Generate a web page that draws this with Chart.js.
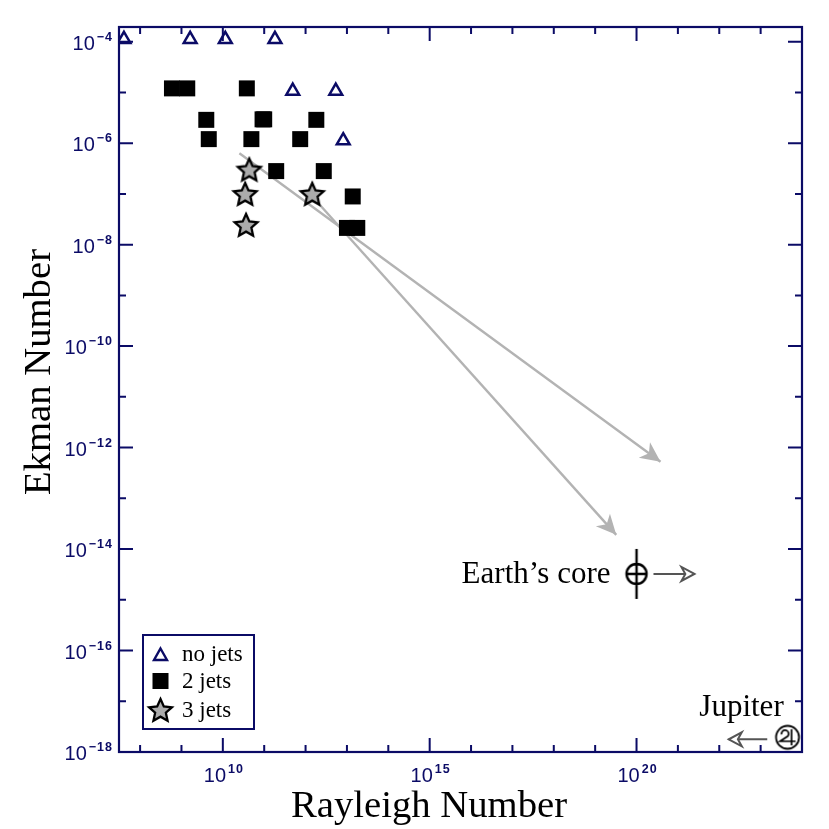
<!DOCTYPE html>
<html>
<head>
<meta charset="utf-8">
<script src="https://cdn.jsdelivr.net/npm/chart.js@4"></script>
<style>
body { margin: 0; background: #fff; }
</style>
</head>
<body>
<canvas id="chart" width="829" height="829"></canvas>
<script>
// all values are log10
const noJetsRa = [7.61, 9.21, 10.06, 11.26, 11.69, 12.73, 12.91];
const noJetsEk = [-3.95, -3.95, -3.95, -3.95, -4.97, -4.97, -5.95];
const twoJetsRa = [8.77, 9.14, 10.58, 9.60, 10.96, 11.0, 12.26, 9.66, 10.69, 11.87, 11.29, 12.44, 13.14, 13.0, 13.25];
const twoJetsEk = [-4.92, -4.92, -4.92, -5.54, -5.53, -5.53, -5.54, -5.92, -5.92, -5.92, -6.55, -6.55, -7.05, -7.67, -7.67];
const threeJetsRa = [10.64, 10.54, 10.56, 12.16];
const threeJetsEk = [-6.54, -7.02, -7.63, -7.02];
const trendARa = [10.40, 20.58];
const trendAEk = [-6.20, -12.28];
const trendBRa = [12.13, 19.51];
const trendBEk = [-7.02, -13.72];
const earthRa = [20.0];
const earthEk = [-14.49];
const earthArrowRa = [20.41, 21.40];
const earthArrowEk = [-14.49, -14.49];
const jupiterRa = [23.65];
const jupiterEk = [-17.71];
const jupiterArrowRa = [23.16, 22.23];
const jupiterArrowEk = [-17.75, -17.75];

const xTicks = [8, 9, 10, 11, 12, 13, 14, 15, 16, 17, 18, 19, 20, 21, 22, 23, 24];
const xLabelled = [10, 15, 20];
const yTicks = [-4, -5, -6, -7, -8, -9, -10, -11, -12, -13, -14, -15, -16, -17, -18];
const yLabelled = [-4, -6, -8, -10, -12, -14, -16, -18];

const NAVY = '#0b0b66';
const GREY = '#b3b3b3';
const DARK = '#555555';
const SERIF = '"Liberation Serif", serif';
const SANS = '"Liberation Sans", sans-serif';

const toPoints = (xs, ys) => xs.map((x, i) => ({ x: 10 ** x, y: 10 ** ys[i] }));

function symbolCanvas(size, paint) {
    const c = document.createElement('canvas');
    c.width = size;
    c.height = size;
    const g = c.getContext('2d');
    g.translate(size / 2, size / 2);
    paint(g);
    return c;
}

function paintStar(g, outer) {
    const inner = outer * 0.47;
    g.beginPath();
    for (let i = 0; i < 10; i++) {
        const r = i % 2 ? inner : outer;
        const a = -Math.PI / 2 + i * Math.PI / 5;
        g.lineTo(r * Math.cos(a), r * Math.sin(a));
    }
    g.closePath();
    g.fillStyle = '#ababab';
    g.fill();
    g.strokeStyle = '#000';
    g.lineWidth = 2.3;
    g.lineJoin = 'miter';
    g.stroke();
}

const starImage = symbolCanvas(30, g => paintStar(g, 12));

const earthImage = symbolCanvas(56, g => {
    g.strokeStyle = '#000';
    g.lineWidth = 2.4;
    g.beginPath();
    g.arc(0, 0, 10, 0, Math.PI * 2);
    g.moveTo(-10, 0);
    g.lineTo(10, 0);
    g.moveTo(0, -25);
    g.lineTo(0, 25);
    g.stroke();
});

// Jupiter sign inside a ring
const jupiterImage = symbolCanvas(30, g => {
    g.strokeStyle = '#000';
    g.lineWidth = 1.8;
    g.beginPath();
    g.arc(0, 0, 11.5, 0, Math.PI * 2);
    g.stroke();
    g.lineWidth = 1.7;
    g.beginPath();
    g.arc(-2.5, -3.5, 3.6, Math.PI * 0.95, Math.PI * 2.25);
    g.lineTo(-7.5, 4);
    g.lineTo(8, 4);
    g.moveTo(4, -8);
    g.lineTo(4, 8);
    g.stroke();
});

function arrowHead(ctx, from, to, opts) {
    const a = Math.atan2(to.y - from.y, to.x - from.x);
    ctx.save();
    ctx.translate(to.x, to.y);
    ctx.rotate(a);
    ctx.beginPath();
    ctx.moveTo(0, 0);
    ctx.lineTo(-opts.len, -opts.half);
    ctx.lineTo(-opts.len * opts.notch, 0);
    ctx.lineTo(-opts.len, opts.half);
    ctx.closePath();
    ctx.fillStyle = opts.fill;
    ctx.fill();
    if (opts.stroke) {
        ctx.strokeStyle = opts.stroke;
        ctx.lineWidth = 2;
        ctx.stroke();
    }
    ctx.restore();
}

// 10 with a raised exponent
function powerLabel(ctx, exp, x, baseline, align) {
    const base = '10', sup = String(exp).replace('-', '\u2212');
    const gap = 2;
    ctx.font = '20px ' + SANS;
    const bw = ctx.measureText(base).width;
    ctx.font = 'bold 12.5px ' + SANS;
    ctx.letterSpacing = '1px';
    const sw = ctx.measureText(sup).width;
    ctx.letterSpacing = '0px';
    const total = bw + gap + sw;
    const left = align === 'right' ? x - total : x - total / 2;
    ctx.fillStyle = NAVY;
    ctx.textAlign = 'left';
    ctx.textBaseline = 'alphabetic';
    ctx.font = '20px ' + SANS;
    ctx.fillText(base, left, baseline);
    ctx.font = 'bold 12.5px ' + SANS;
    ctx.letterSpacing = '1px';
    ctx.fillText(sup, left + bw + gap, baseline - 9);
    ctx.letterSpacing = '0px';
}

const framePlugin = {
    id: 'frame',
    afterDatasetsDraw(chart) {
        const { ctx, chartArea: area, scales: { x, y } } = chart;
        ctx.save();
        // inward ticks on all four sides
        ctx.strokeStyle = NAVY;
        ctx.lineWidth = 2;
        ctx.beginPath();
        xTicks.forEach(v => {
            const px = x.getPixelForValue(10 ** v);
            const len = xLabelled.includes(v) ? 14 : 7;
            ctx.moveTo(px, area.bottom);
            ctx.lineTo(px, area.bottom - len);
            ctx.moveTo(px, area.top);
            ctx.lineTo(px, area.top + len);
        });
        yTicks.forEach(v => {
            const py = y.getPixelForValue(10 ** v);
            const len = yLabelled.includes(v) ? 14 : 7;
            ctx.moveTo(area.left, py);
            ctx.lineTo(area.left + len, py);
            ctx.moveTo(area.right, py);
            ctx.lineTo(area.right - len, py);
        });
        ctx.stroke();
        ctx.lineWidth = 2.2;
        ctx.strokeRect(area.left, area.top, area.right - area.left, area.bottom - area.top);

        xLabelled.forEach(v => powerLabel(ctx, v, x.getPixelForValue(10 ** v) + 1, area.bottom + 30, 'center'));
        yLabelled.forEach(v => powerLabel(ctx, v, area.left - 6, y.getPixelForValue(10 ** v) + 8, 'right'));

        // arrow heads
        chart.data.datasets.forEach((ds, i) => {
            if (!ds.head) return;
            const pts = chart.getDatasetMeta(i).data;
            arrowHead(ctx, pts[0], pts[1], ds.head);
        });

        // axis titles
        ctx.fillStyle = '#000';
        ctx.textBaseline = 'alphabetic';
        ctx.textAlign = 'center';
        ctx.font = '38.7px ' + SERIF;
        ctx.fillText('Rayleigh Number', 429, 816.5);
        ctx.save();
        ctx.translate(50, 372);
        ctx.rotate(-Math.PI / 2);
        ctx.fillText('Ekman Number', 0, 0);
        ctx.restore();

        // object names
        ctx.textAlign = 'right';
        ctx.font = '31px ' + SERIF;
        ctx.fillText('Earth\u2019s core', x.getPixelForValue(10 ** earthRa[0]) - 26, y.getPixelForValue(10 ** earthEk[0]) + 9.5);
        ctx.textAlign = 'center';
        ctx.fillText('Jupiter', x.getPixelForValue(10 ** jupiterRa[0]) - 46, y.getPixelForValue(10 ** jupiterEk[0]) - 21);

        // legend box
        ctx.lineWidth = 2;
        ctx.strokeStyle = NAVY;
        ctx.strokeRect(143, 635, 111, 94);
        ctx.textAlign = 'left';
        ctx.font = '23px ' + SERIF;
        ctx.fillStyle = '#000';
        ctx.fillText('no jets', 182, 661);
        ctx.fillText('2 jets', 182, 688);
        ctx.fillText('3 jets', 182, 717);

        ctx.lineWidth = 2.4;
        ctx.beginPath();
        ctx.moveTo(160.5, 648.5);
        ctx.lineTo(167, 660);
        ctx.lineTo(154, 660);
        ctx.closePath();
        ctx.stroke();
        ctx.fillStyle = '#000';
        ctx.fillRect(152.5, 673, 16, 16);
        ctx.translate(160.5, 711);
        paintStar(ctx, 12);
        ctx.restore();
    }
};

new Chart(document.getElementById('chart'), {
    type: 'scatter',
    data: {
        datasets: [
            { label: 'trend A', data: toPoints(trendARa, trendAEk), showLine: true, pointRadius: 0, borderColor: GREY, borderWidth: 2.4, order: 9,
              head: { len: 20, half: 9.5, notch: 0.72, fill: GREY } },
            { label: 'trend B', data: toPoints(trendBRa, trendBEk), showLine: true, pointRadius: 0, borderColor: GREY, borderWidth: 2.4, order: 9,
              head: { len: 20, half: 9.5, notch: 0.72, fill: GREY } },
            { label: 'no jets', data: toPoints(noJetsRa, noJetsEk), pointStyle: 'triangle', pointRadius: 7.4, pointBackgroundColor: 'transparent', pointBorderColor: NAVY, pointBorderWidth: 2.5, order: 3 },
            { label: '2 jets', data: toPoints(twoJetsRa, twoJetsEk), pointStyle: 'rect', pointRadius: 11.3, pointBackgroundColor: '#000', pointBorderColor: '#000', pointBorderWidth: 0, order: 2 },
            { label: '3 jets', data: toPoints(threeJetsRa, threeJetsEk), pointStyle: starImage, order: 1 },
            { label: 'Earth', data: toPoints(earthRa, earthEk), pointStyle: earthImage, order: 1 },
            { label: 'Earth arrow', data: toPoints(earthArrowRa, earthArrowEk), showLine: true, pointRadius: 0, borderColor: DARK, borderWidth: 2, order: 4,
              head: { len: 13, half: 7, notch: 0.7, fill: '#fff', stroke: DARK } },
            { label: 'Jupiter', data: toPoints(jupiterRa, jupiterEk), pointStyle: jupiterImage, order: 1 },
            { label: 'Jupiter arrow', data: toPoints(jupiterArrowRa, jupiterArrowEk), showLine: true, pointRadius: 0, borderColor: DARK, borderWidth: 2, order: 4,
              head: { len: 13, half: 7, notch: 0.7, fill: '#fff', stroke: DARK } }
        ]
    },
    options: {
        responsive: false,
        animation: false,
        layout: { padding: { top: 27, right: 27, left: 0, bottom: 0 } },
        plugins: { legend: { display: false }, tooltip: { enabled: false } },
        scales: {
            x: {
                type: 'logarithmic',
                bounds: 'data',
                min: 10 ** 7.49,
                max: 10 ** 24.0,
                grid: { display: false },
                border: { display: false },
                ticks: { display: false },
                afterBuildTicks: s => { s.ticks = xTicks.map(v => ({ value: 10 ** v })); },
                afterFit: s => { s.height = 77; }
            },
            y: {
                type: 'logarithmic',
                bounds: 'data',
                min: 10 ** -18,
                max: 10 ** -3.71,
                grid: { display: false },
                border: { display: false },
                ticks: { display: false },
                afterBuildTicks: s => { s.ticks = yTicks.map(v => ({ value: 10 ** v })); },
                afterFit: s => { s.width = 119; }
            }
        }
    },
    plugins: [framePlugin]
});
</script>
</body>
</html>
